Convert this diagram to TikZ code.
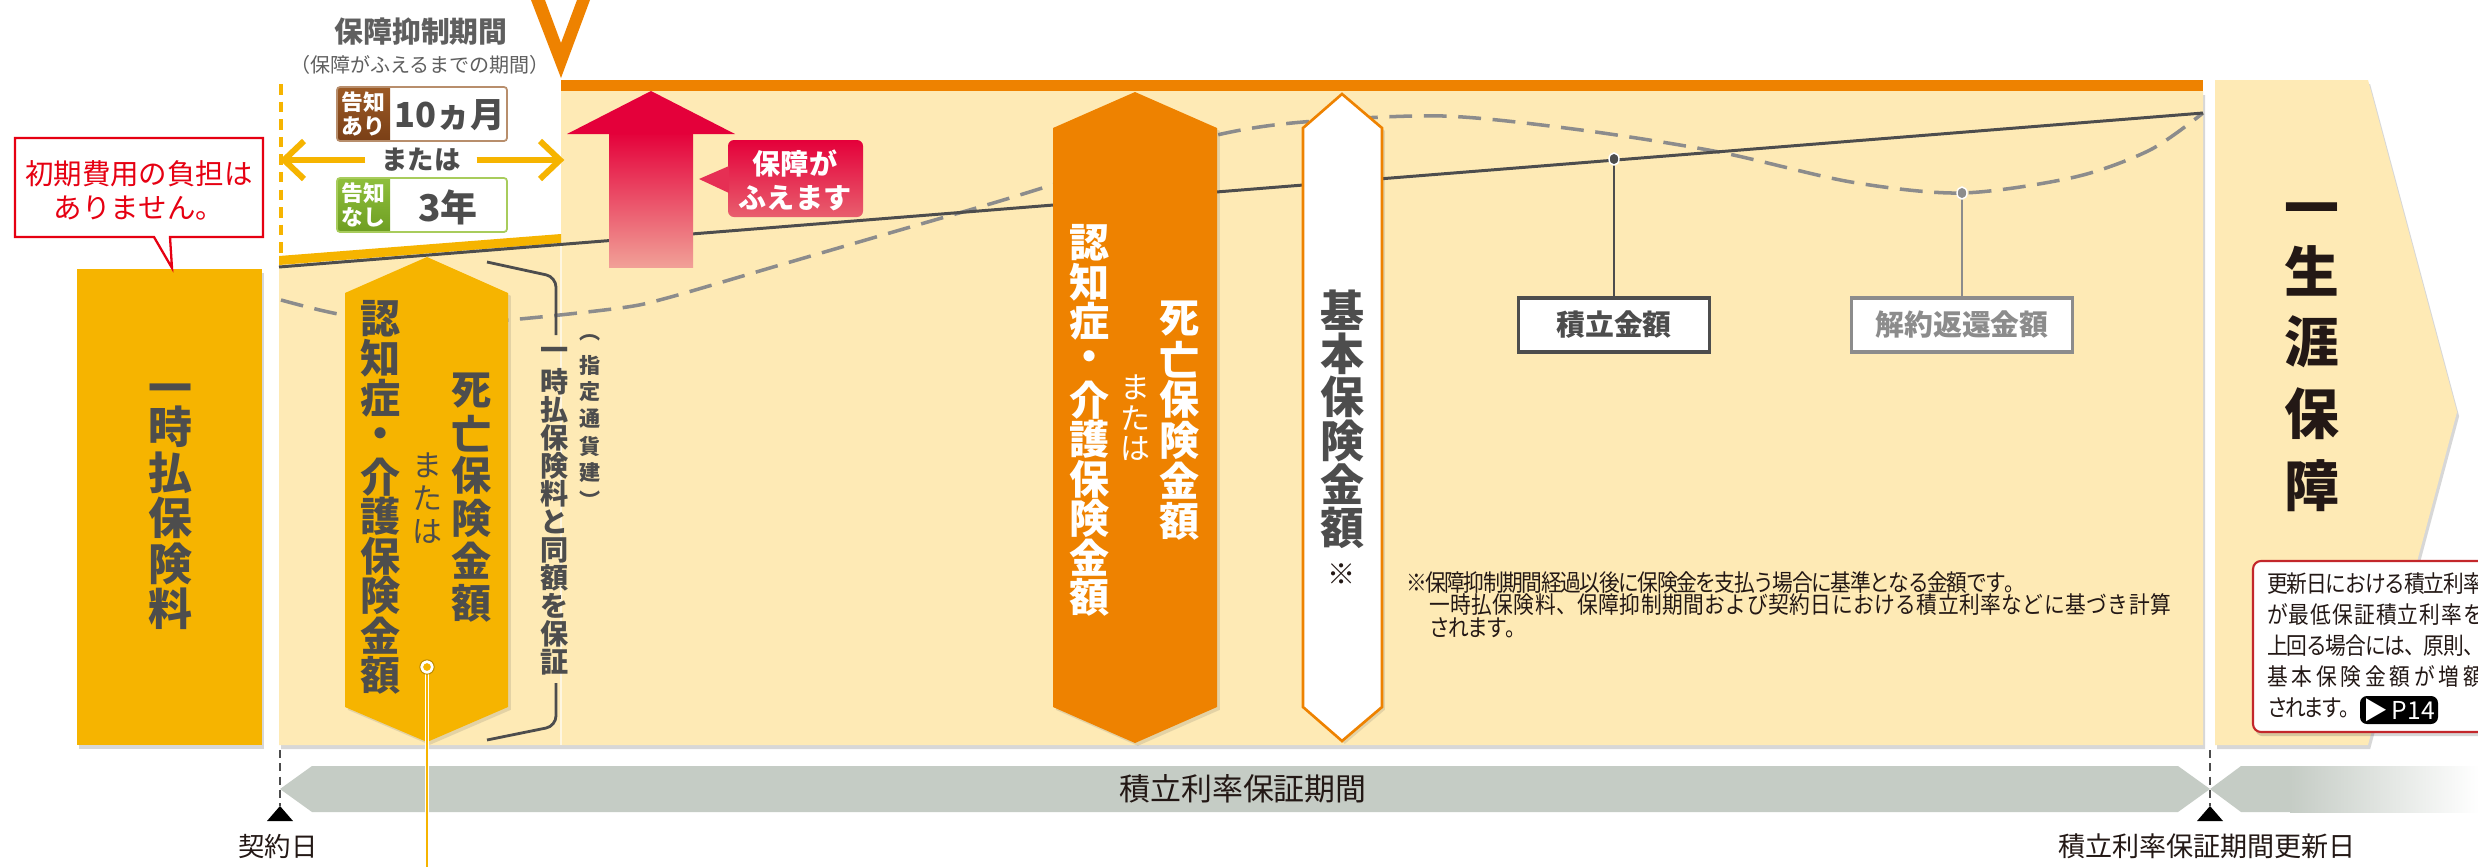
\documentclass[tikz,border=0pt]{standalone}
\usepackage{fontspec}
\setmainfont{Noto Sans CJK JP}
\newfontfamily\condfont{Noto Sans CJK JP}[FakeStretch=0.88]
\usetikzlibrary{shadows}
\makeatletter
\newcommand\vstk[2]{\vbox{\offinterlineskip\def\vstk@p{#1}\vstk@loop#2\relax}}
\def\vstk@loop#1{\ifx#1\relax\else\hbox to 1em{\hss\vbox to \vstk@p{\vss\hbox{#1}\vss}\hss}\expandafter\vstk@loop\fi}
\newcommand\hpch[2]{\hbox{\def\hpch@p{#1}\hpch@loop#2\relax}}
\def\hpch@loop#1{\ifx#1\relax\else\hbox to \hpch@p{#1\hss}\expandafter\hpch@loop\fi}
\makeatother
\newcommand\fsz[1]{\fontsize{#1pt}{#1pt}\selectfont}
\definecolor{cyel}{HTML}{F6B400}
\definecolor{corg}{HTML}{EE8200}
\definecolor{ccream}{HTML}{FEEAB5}
\definecolor{cgray}{HTML}{4D4D4D}
\definecolor{cred}{HTML}{E4003A}
\definecolor{cpink}{HTML}{F1A097}
\definecolor{cpk}{HTML}{E85F6E}
\definecolor{credb}{HTML}{E60012}
\definecolor{credd}{HTML}{C3272B}
\definecolor{cbrownt}{HTML}{9C5A26}
\definecolor{cbrownd}{HTML}{7A3F16}
\definecolor{cbrownb}{HTML}{B88E6C}
\definecolor{cgreent}{HTML}{8FBF3C}
\definecolor{cgreend}{HTML}{6E9E22}
\definecolor{cgreenb}{HTML}{A8CC5C}
\definecolor{cbar}{HTML}{C5CCC5}
\definecolor{cdash}{HTML}{8C8C8C}
\definecolor{ctext}{HTML}{231815}
\begin{document}
\begin{tikzpicture}[x=0.01cm, y=-0.01cm,
  every node/.style={inner sep=0pt, outer sep=0pt},
  shad/.style={drop shadow={shadow xshift=0.6pt, shadow yshift=-1.2pt, opacity=0.22, fill=black!70}},
  lshad/.style={drop shadow={shadow xshift=0.8pt, shadow yshift=-0.8pt, opacity=0.15, fill=black!70}},
  vbold/.style={text=cgray, font={\fsz{#1}\bfseries}},
  arrowline/.style={cyel, line width=1.7pt, line join=miter},
  lblbox/.style={fill=white, line width=1pt, minimum width=1.91cm, minimum height=0.54cm, font={\fsz{8.2}\bfseries}},
  note/.style={text=ctext, font={\condfont\fsz{6.7}}, anchor=west},
  bottomlbl/.style={text=ctext}
]
\useasboundingbox (0,0) rectangle (2478,866);
\clip (0,0) rectangle (2478,866);
\fill[white] (0,0) rectangle (2478,866);

% top V mark
\fill[corg] (531,0) -- (561,78) -- (590,0) -- (577,0) -- (561,43) -- (545,0) -- cycle;

% main cream panel
\fill[ccream, shad] (279,265) -- (561,243) -- (561,91) -- (2203,91) -- (2203,745) -- (279,745) -- cycle;
\fill[corg] (561,80) rectangle (2203,91);
\fill[cyel] (279,256) -- (561,234) -- (561,243) -- (279,265) -- cycle;
\draw[white, opacity=0.6, line width=0.4pt] (561,244) -- (561,745);

% right lifelong panel
\fill[ccream, shad] (2215,80) -- (2368,80) -- (2457,412) -- (2368,745) -- (2215,745) -- cycle;

% curves
\draw[cdash, line width=1pt, dash pattern=on 6.5pt off 3.3pt] plot[smooth, tension=0.5] coordinates {(281,300) (344,315) (430,323) (508,320) (620,308) (667,298) (780,265) (900,230) (1000,201) (1110,167) (1217,135) (1303,122) (1443,116) (1581,130) (1719,152) (1851,182) (1962,193) (2075,177) (2150,150) (2203,113)};
\draw[cgray, line width=0.85pt] (279,267) -- (2203,113);

% dots and labels
\coordinate (d1) at (1614,159);
\coordinate (d2) at (1962,193);
\node[lblbox, draw=cgray, text=cgray] (b1) at (1614,325) {積立金額};
\node[lblbox, draw=cdash, text=cdash, minimum width=2.21cm] (b2) at (1962,325) {解約返還金額};
\draw[cgray, line width=0.6pt] (d1) -- (b1.north);
\draw[cdash, line width=0.5pt] (d2) -- (b2.north);
\filldraw[fill=cgray, draw=white, line width=0.4pt] (d1) ellipse [x radius=0.05cm, y radius=0.06cm];
\filldraw[fill=cdash, draw=white, line width=0.4pt] (d2) ellipse [x radius=0.05cm, y radius=0.06cm];

% single premium box
\node[fill=cyel, minimum width=1.85cm, minimum height=4.76cm, shad] (pay) at (169.5,507) {};
\node[vbold=12.5] (paytxt0) at (170,394) {一};
\node[vbold=12.5] (paytxt) at (170,518) {\vstk{0.455cm}{時払保険料}};

% callout: no initial cost
\draw[credb, line width=0.65pt, fill=white, line join=miter] (15,138) -- (263,138) -- (263,237) -- (170,237) -- (172,268) -- (154,237) -- (15,237) -- cycle;
\node[text=credb, font={\fontsize{8.1pt}{9.7pt}\selectfont}, align=center] (cost) at (139,190) {初期費用の負担は\\ありません。};

% suppression period header
\node[text=cgray!90, font={\fsz{8.2}\bfseries}] (hdr) at (421,32) {保障抑制期間};
\node[text=cgray!90, font=\fsz{5.7}] (hdrsub) at (420,65) {（保障がふえるまでの期間）};
\draw[cyel, line width=0.9pt, dash pattern=on 3pt off 2pt] (281,84) -- (281,255);

% notice boxes
\begin{scope}
\clip[rounded corners=0.03cm] (337,87) rectangle (507,141);
\fill[white] (337,87) rectangle (507,141);
\shade[top color=cbrownt, bottom color=cbrownd] (337,87) rectangle (390,141);
\end{scope}
\draw[cbrownb, line width=0.5pt, rounded corners=0.03cm] (337,87) rectangle (507,141);
\node[text=white, font={\fontsize{6.2pt}{6.6pt}\selectfont\bfseries}, align=center] (k1) at (363.5,114) {告知\\あり};
\node[text=cgray, font={\fsz{9.8}\bfseries}] (m10) at (450,115) {10ヵ月};
\begin{scope}
\clip[rounded corners=0.03cm] (337,178) rectangle (507,232);
\fill[white] (337,178) rectangle (507,232);
\shade[top color=cgreent, bottom color=cgreend] (337,178) rectangle (390,232);
\end{scope}
\draw[cgreenb, line width=0.5pt, rounded corners=0.03cm] (337,178) rectangle (507,232);
\node[text=white, font={\fontsize{6.2pt}{6.6pt}\selectfont\bfseries}, align=center] (k2) at (363.5,205) {告知\\なし};
\node[text=cgray, font={\fsz{10.5}\bfseries}] (y3) at (448,207) {3年};
\node[text=cgray, font={\fsz{7.5}\bfseries}] (or1) at (421,160) {または};
\coordinate (al) at (284,160);
\coordinate (ar) at (560,160);
\draw[arrowline] (or1.west) ++(-16,0) -- (al);
\draw[arrowline] (304,141) -- (al) -- (304,179);
\draw[arrowline] (or1.east) ++(16,0) -- (ar);
\draw[arrowline] (540,141) -- (ar) -- (540,179);

% red up arrow
\shade[top color=cred, bottom color=cpink] (609,132) rectangle (693,267);
\fill[cred] (651,91) -- (735,134) -- (567,134) -- cycle;
\shade[top color=cred, bottom color=cpk, rounded corners=0.06cm] (728,140) rectangle (863,217);
\fill[cred!50!cpk] (729,166) -- (699,179) -- (729,193) -- cycle;
\node[text=white, font={\fontsize{8pt}{9.7pt}\selectfont\bfseries}, align=center] (up) at (795,180) {保障が\\ふえます};

% yellow hexagon
\fill[cyel, lshad] (345,293) -- (427,257) -- (508,293) -- (508,707) -- (427,742) -- (345,707) -- cycle;
\node[vbold=11.4] (y1) at (472,497) {\vstk{0.425cm}{死亡保険金額}};
\node[text=cgray, font=\fsz{8.5}] (y2) at (427,498) {\vstk{0.33cm}{または}};
\node[vbold=11.4] (y3c) at (381,497) {\vstk{0.395cm}{認知症・介護保険金額}};

% bracket
\draw[cgray, line width=0.8pt, rounded corners=0.1cm] (487,262) -- (556,277) -- (556,335);
\draw[cgray, line width=0.8pt, rounded corners=0.1cm] (556,683) -- (556,726) -- (487,740);
\node[vbold=8] (br1) at (555,508) {\vstk{0.28cm}{一時払保険料と同額を保証}};
\node[vbold=6] (br2) at (590,419) {\vstk{0.27cm}{︵指定通貨建︶}};

% orange hexagon
\fill[corg, lshad] (1053,128) -- (1135,92) -- (1217,128) -- (1217,707) -- (1135,743) -- (1053,707) -- cycle;
\node[text=white, font={\fsz{11.4}\bfseries}] (o1) at (1180,420) {\vstk{0.405cm}{死亡保険金額}};
\node[text=white, font=\fsz{8.5}] (o2) at (1135,418) {\vstk{0.31cm}{または}};
\node[text=white, font={\fsz{11.4}\bfseries}] (o3) at (1090,420) {\vstk{0.393cm}{認知症・介護保険金額}};

% white hexagon
\filldraw[fill=white, draw=corg, line width=0.75pt, lshad] (1303,128) -- (1342,94) -- (1382,128) -- (1382,707) -- (1342,741) -- (1303,707) -- cycle;
\node[vbold=12.5] (w1) at (1342,419) {\vstk{0.435cm}{基本保険金額}};
\node[text=ctext, font=\fsz{8}] (w2) at (1342,574) {※};

% footnote
\node[note] (n1) at (1406,583) {\hpch{0.193cm}{※保障抑制期間経過以後に保険金を支払う場合に基準となる金額です。}};
\node[note] (n2) at (1429,605) {\hpch{0.212cm}{一時払保険料、保障抑制期間および契約日における積立利率などに基づき計算}};
\node[note] (n3) at (1429,628) {\hpch{0.19cm}{されます。}};

% lifelong text
\node[text=ctext, font={\fsz{15.6}\bfseries}] (life0) at (2312,216) {一};
\node[text=ctext, font={\fsz{15.6}\bfseries}] (life) at (2312,378) {\vstk{0.715cm}{生涯保障}};

% info box
\filldraw[fill=white, draw=credd, line width=0.6pt, rounded corners=0.08cm, shad] (2253,561) rectangle (2560,732);
\node[note] (i1) at (2267,584) {\hpch{0.196cm}{更新日における積立利率}};
\node[note] (i2) at (2267,615) {\hpch{0.218cm}{が最低保証積立利率を}};
\node[note] (i3) at (2267,646) {\hpch{0.196cm}{上回る場合には、原則、}};
\node[note] (i4) at (2267,677) {\hpch{0.245cm}{基本保険金額が増額}};
\node[note] (i5) at (2267,708) {\hpch{0.18cm}{されます。}};
\node[fill=black, rounded corners=0.07cm, text=white, font=\fsz{7}, minimum width=0.78cm, minimum height=0.28cm] (p14) at (2399,710) {▶\,P14};

% bottom bars
\fill[cbar] (280,789) -- (312,766) -- (2178,766) -- (2210,789) -- (2178,812) -- (312,812) -- cycle;
\fill[cbar] (2210,789) -- (2241,766) -- (2500,766) -- (2500,812) -- (2241,812) -- cycle;
\shade[left color=cbar, right color=white] (2290,766) rectangle (2479,812);
\node[bottomlbl, font=\fsz{8.8}] (per) at (1243,789) {積立利率保証期間};

% contract date marks
\coordinate (c0) at (280,806);
\coordinate (c1) at (2210,806);
\draw[black!70, line width=0.45pt, dash pattern=on 2.3pt off 1.5pt] (280,750) -- (c0);
\draw[black!70, line width=0.45pt, dash pattern=on 2.3pt off 1.5pt] (2210,750) -- (c1);
\fill[black] (c0) -- ++(13,15) -- ++(-26,0) -- cycle;
\fill[black] (c1) -- ++(13,15) -- ++(-26,0) -- cycle;
\node[bottomlbl, font=\fsz{7.5}] (cd) at (278,846) {契約日};
\node[bottomlbl, font=\fsz{7.7}] (rd) at (2207,846) {積立利率保証期間更新日};

% pointer line from yellow hexagon
\coordinate (pc) at (427,667);
\coordinate (pe) at (427,880);
\draw[white, line width=1.3pt] (427,673) -- (pe);
\draw[cyel, line width=0.6pt] (427,673) -- (pe);
\filldraw[fill=cyel, draw=white, line width=0.8pt] (pc) circle (0.055cm);
\draw[cyel!75!black, line width=0.25pt] (pc) circle (0.072cm);
\end{tikzpicture}
\end{document}
